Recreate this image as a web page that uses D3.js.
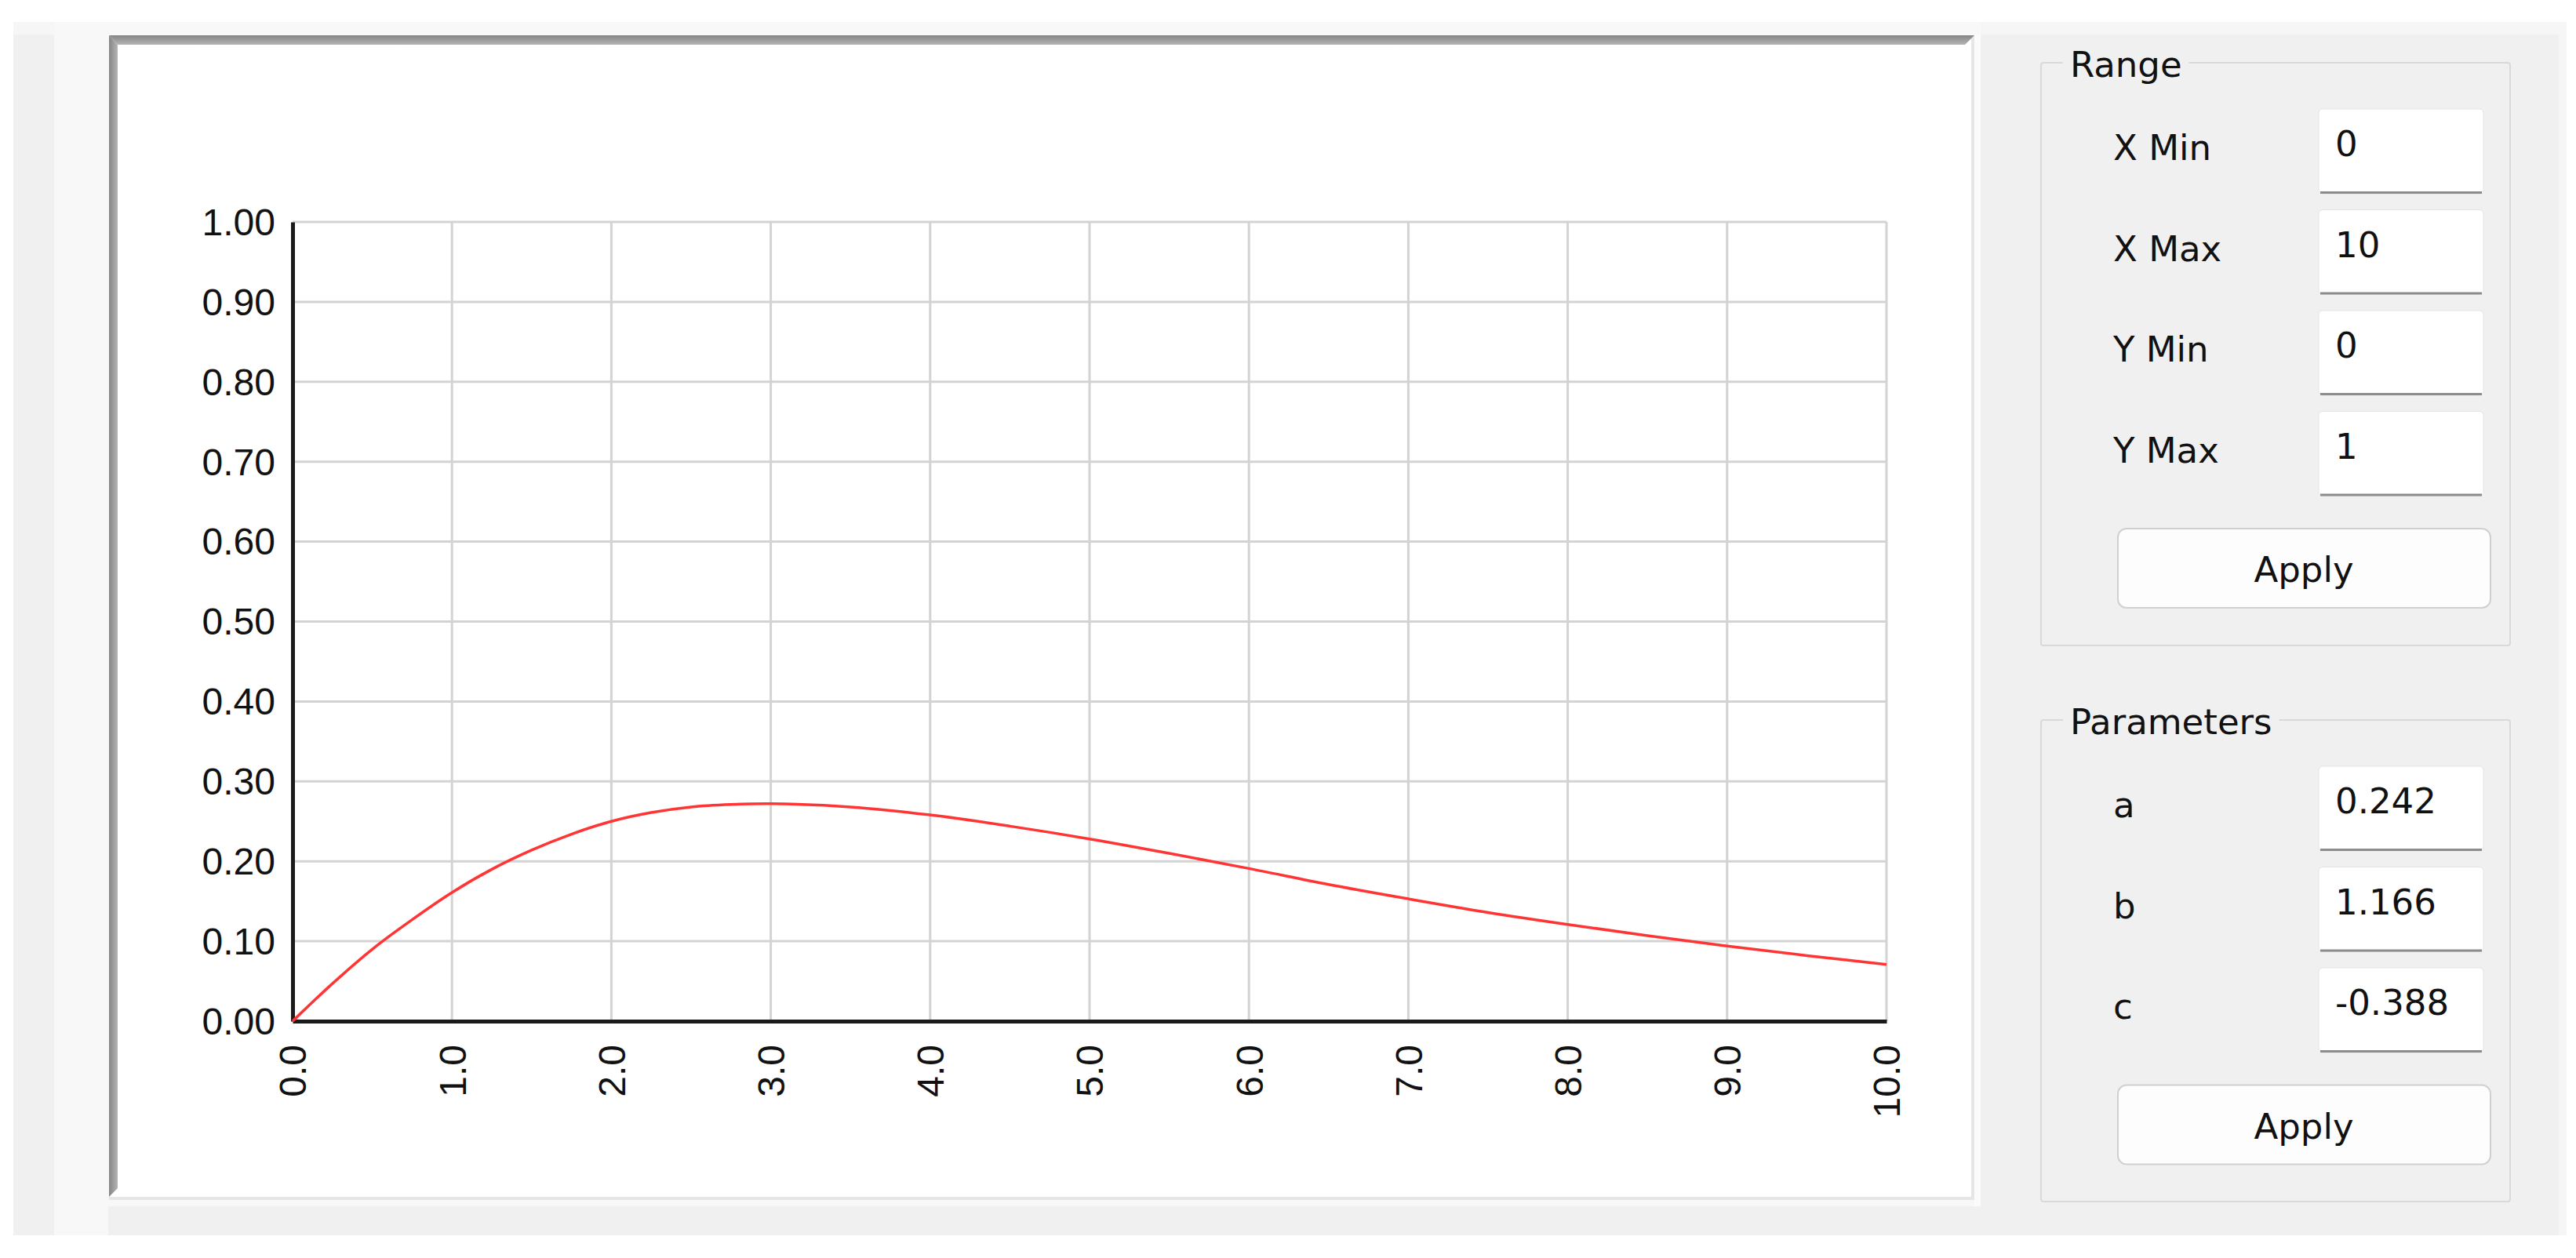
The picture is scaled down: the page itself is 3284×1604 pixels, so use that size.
<!DOCTYPE html>
<html>
<head>
<meta charset="utf-8">
<script src="https://cdn.jsdelivr.net/npm/d3@7"></script>
<style>
    body { margin: 0; background: #ffffff; }
    svg { display: block; }
    .tick text { font-family: "Liberation Sans", Arial, sans-serif; font-size: 48px; fill: #111; }
    .ui { font-family: "DejaVu Sans", Tahoma, sans-serif; font-size: 45px; fill: #111; }
</style>
</head>
<body>
<svg id="app" width="3284" height="1604"></svg>
<script>
// curve values
const xValues = [0, 0.25, 0.5, 0.75, 1, 1.25, 1.5, 1.75, 2, 2.25, 2.5, 2.75, 3, 3.5, 4, 4.5, 5, 5.5, 6, 6.5, 7, 7.5, 8, 8.5, 9, 9.5, 10];
const yValues = [0, 0.047, 0.090, 0.127, 0.161, 0.190, 0.214, 0.234, 0.250, 0.261, 0.268, 0.271, 0.272, 0.268, 0.258, 0.244, 0.228, 0.210, 0.191, 0.171, 0.153, 0.136, 0.121, 0.107, 0.094, 0.082, 0.071];

const xTicks = [0, 1, 2, 3, 4, 5, 6, 7, 8, 9, 10];
const yTicks = [0, 0.1, 0.2, 0.3, 0.4, 0.5, 0.6, 0.7, 0.8, 0.9, 1.0];

const rangeLabels = ["X Min", "X Max", "Y Min", "Y Max"];
const rangeValues = ["0", "10", "0", "1"];
const paramLabels = ["a", "b", "c"];
const paramValues = ["0.242", "1.166", "-0.388"];

class FunctionChart {

    constructor() {
        this.svg = d3.select("#app");
        this.plot = {left: 373, right: 2405, top: 283, bottom: 1302};

        this.x = d3.scaleLinear().domain([0, 10]).range([this.plot.left, this.plot.right]);
        this.y = d3.scaleLinear().domain([0, 1]).range([this.plot.bottom, this.plot.top]);
    }

    // window background + sunken frame round the plot
    drawFrame() {
        let svg = this.svg;
        svg.append("rect").attr("x", 17).attr("y", 28).attr("width", 3255).attr("height", 1547).attr("fill", "#f6f6f6");
        svg.append("rect").attr("x", 17).attr("y", 44).attr("width", 3245).attr("height", 1531).attr("fill", "#f0f0f0");
        svg.append("rect").attr("x", 69).attr("y", 28).attr("width", 2456).attr("height", 1510).attr("fill", "#f8f8f8");
        svg.append("rect").attr("x", 69).attr("y", 1538).attr("width", 69).attr("height", 37).attr("fill", "#f8f8f8");

        let defs = svg.append("defs");
        let gTop = defs.append("linearGradient").attr("id", "gTop").attr("x1", 0).attr("y1", 0).attr("x2", 0).attr("y2", 1);
        gTop.append("stop").attr("offset", "0%").attr("stop-color", "#858585");
        gTop.append("stop").attr("offset", "100%").attr("stop-color", "#b4b4b4");
        let gLeft = defs.append("linearGradient").attr("id", "gLeft").attr("x1", 0).attr("y1", 0).attr("x2", 1).attr("y2", 0);
        gLeft.append("stop").attr("offset", "0%").attr("stop-color", "#858585");
        gLeft.append("stop").attr("offset", "100%").attr("stop-color", "#b4b4b4");

        // light outer edge (right / bottom)
        svg.append("rect").attr("x", 139).attr("y", 45).attr("width", 2378).attr("height", 1485).attr("fill", "#e6e6e6");
        svg.append("rect").attr("x", 139).attr("y", 45).attr("width", 2374).attr("height", 1481).attr("fill", "#ffffff");
        svg.append("path").attr("d", "M139,45 L2517,45 L2505,57 L150,57 Z").attr("fill", "url(#gTop)");
        svg.append("path").attr("d", "M139,45 L150,57 L150,1515 L139,1526 Z").attr("fill", "url(#gLeft)");
    }

    drawGrid() {
        let that = this;
        let grid = this.svg.append("g").attr("class", "grid");

        grid.selectAll(".vgrid")
            .data(xTicks.filter(d => d > 0))
            .enter().append("line")
            .attr("class", "vgrid")
            .attr("x1", d => that.x(d)).attr("x2", d => that.x(d))
            .attr("y1", this.y(1)).attr("y2", this.y(0))
            .attr("stroke", "#d3d3d3").attr("stroke-width", 3);

        grid.selectAll(".hgrid")
            .data(yTicks.filter(d => d > 0))
            .enter().append("line")
            .attr("class", "hgrid")
            .attr("x1", this.x(0)).attr("x2", this.x(10))
            .attr("y1", d => that.y(d)).attr("y2", d => that.y(d))
            .attr("stroke", "#d3d3d3").attr("stroke-width", 3);
    }

    drawAxes() {
        let yAxis = d3.axisLeft(this.y)
            .tickValues(yTicks)
            .tickFormat(d3.format(".2f"))
            .tickSize(0)
            .tickPadding(22);
        let gy = this.svg.append("g")
            .attr("class", "axis")
            .attr("transform", "translate(" + this.plot.left + ",0)")
            .call(yAxis);
        gy.select(".domain").attr("stroke", "#1a1a1a").attr("stroke-width", 5);
        gy.selectAll("text").attr("dy", "0.34em");

        let xAxis = d3.axisBottom(this.x)
            .tickValues(xTicks)
            .tickFormat(d3.format(".1f"))
            .tickSize(0);
        let gx = this.svg.append("g")
            .attr("class", "axis")
            .attr("transform", "translate(0," + this.plot.bottom + ")")
            .call(xAxis);
        gx.select(".domain").attr("stroke", "#1a1a1a").attr("stroke-width", 5);
        gx.selectAll("text")
            .attr("transform", "rotate(-90)")
            .attr("x", -30)
            .attr("y", 0)
            .attr("dy", "0.35em")
            .style("text-anchor", "end");
    }

    drawCurve() {
        let that = this;
        let pts = xValues.map((v, i) => ({x: v, y: yValues[i]}));
        let linefcn = d3.line()
            .x(d => that.x(d.x))
            .y(d => that.y(d.y))
            .curve(d3.curveCatmullRom.alpha(0.5));

        this.svg.append("path")
            .datum(pts)
            .attr("d", linefcn)
            .attr("fill", "none")
            .attr("stroke", "#ff3434")
            .attr("stroke-width", 3.5);
    }

    // one group box with label / field rows and an Apply button
    drawGroup(title, top, bottom, labels, values) {
        let svg = this.svg;
        let g = svg.append("g");
        let left = 2602, right = 3200;

        g.append("rect")
            .attr("x", left).attr("y", top)
            .attr("width", right - left).attr("height", bottom - top)
            .attr("rx", 3)
            .attr("fill", "none").attr("stroke", "#d9d9d9").attr("stroke-width", 2);

        let t = g.append("text").attr("class", "ui").attr("x", 2639).attr("y", top + 18).text(title);
        let w = t.node().getComputedTextLength();
        g.insert("rect", "text").attr("x", 2630).attr("y", top - 4).attr("width", w + 18).attr("height", 10).attr("fill", "#f0f0f0");

        let rowStep = 128.5;
        let rows = g.selectAll(".row")
            .data(labels)
            .enter().append("g")
            .attr("class", "row")
            .attr("transform", (d, i) => "translate(0," + (top + 59 + i * rowStep) + ")");

        rows.append("text").attr("class", "ui").attr("x", 2694).attr("y", 65).text(d => d);

        rows.append("rect")
            .attr("x", 2956).attr("y", 0).attr("width", 210).attr("height", 108)
            .attr("rx", 5)
            .attr("fill", "#ffffff").attr("stroke", "#e4e4e4").attr("stroke-width", 1);
        rows.append("line")
            .attr("x1", 2958).attr("x2", 3164).attr("y1", 106.5).attr("y2", 106.5)
            .attr("stroke", "#8c8c8c").attr("stroke-width", 3);
        rows.append("text").attr("class", "ui").attr("x", 2977).attr("y", 60).text((d, i) => values[i]);

        let by = top + 59 + labels.length * rowStep + 21;
        g.append("rect")
            .attr("x", 2700).attr("y", by).attr("width", 475).attr("height", 101)
            .attr("rx", 11)
            .attr("fill", "#fdfdfd").attr("stroke", "#d0d0d0").attr("stroke-width", 2);
        g.append("text").attr("class", "ui")
            .attr("x", 2937).attr("y", by + 68)
            .attr("text-anchor", "middle")
            .text("Apply");
    }

    drawPanel() {
        this.svg.append("rect").attr("x", 2517).attr("y", 45).attr("width", 8).attr("height", 1493).attr("fill", "#fbfbfb");
        this.drawGroup("Range", 80, 823, rangeLabels, rangeValues);
        this.drawGroup("Parameters", 918, 1532, paramLabels, paramValues);
    }
}

let chart = new FunctionChart();
chart.drawFrame();
chart.drawGrid();
chart.drawAxes();
chart.drawCurve();
chart.drawPanel();
</script>
</body>
</html>
